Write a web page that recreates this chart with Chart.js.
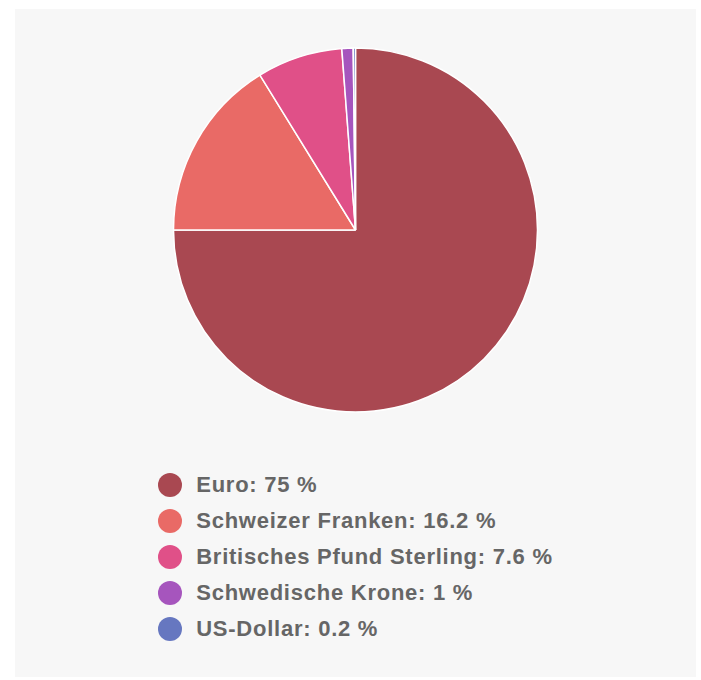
<!DOCTYPE html>
<html>
<head>
<meta charset="utf-8">
<script src="https://cdn.jsdelivr.net/npm/chart.js@4"></script>
<style>
  body { margin: 0; background: #fff; font-family: "Liberation Sans", Arial, sans-serif; }
  #panel { position: absolute; left: 15px; top: 9px; width: 681px; height: 668px; background: #f7f7f7; }
  #chartBox { position: absolute; left: 0; top: 0; width: 681px; height: 442px; }
  #legend { position: absolute; top: 458px; left: 0; width: 681px; display: flex; justify-content: center; }
  #legend ul { list-style: none; margin: 0; padding: 0; }
  #legend li { height: 36px; display: flex; align-items: center; font-weight: bold; font-size: 22px; letter-spacing: 0.75px; color: #666; }
  #legend .dot { width: 24px; height: 24px; border-radius: 50%; margin-right: 14px; }
</style>
</head>
<body>
<div id="panel">
  <div id="chartBox"><canvas id="pie"></canvas></div>
  <div id="legend"><ul id="legendList"></ul></div>
</div>
<script>
const currencies = ['Euro', 'Schweizer Franken', 'Britisches Pfund Sterling', 'Schwedische Krone', 'US-Dollar'];
const shares = [75, 16.2, 7.6, 1, 0.2];
const colors = ['#a94851', '#e96a66', '#e05088', '#a655bd', '#6677c0'];

const ctx = document.getElementById('pie').getContext('2d');
const pieChart = new Chart(ctx, {
  type: 'pie',
  data: {
    labels: currencies,
    datasets: [{
      data: shares,
      backgroundColor: colors,
      borderColor: '#ffffff',
      borderWidth: 1.5
    }]
  },
  options: {
    responsive: true,
    maintainAspectRatio: false,
    animation: false,
    radius: 182,
    plugins: {
      legend: { display: false },
      tooltip: { enabled: false }
    }
  }
});

// legend built from the chart data
const list = document.getElementById('legendList');
pieChart.data.labels.forEach((label, i) => {
  const li = document.createElement('li');
  li.innerHTML = `<span class="dot" style="background:${colors[i]}"></span>${label}: ${shares[i]} %`;
  list.appendChild(li);
});
</script>
</body>
</html>
